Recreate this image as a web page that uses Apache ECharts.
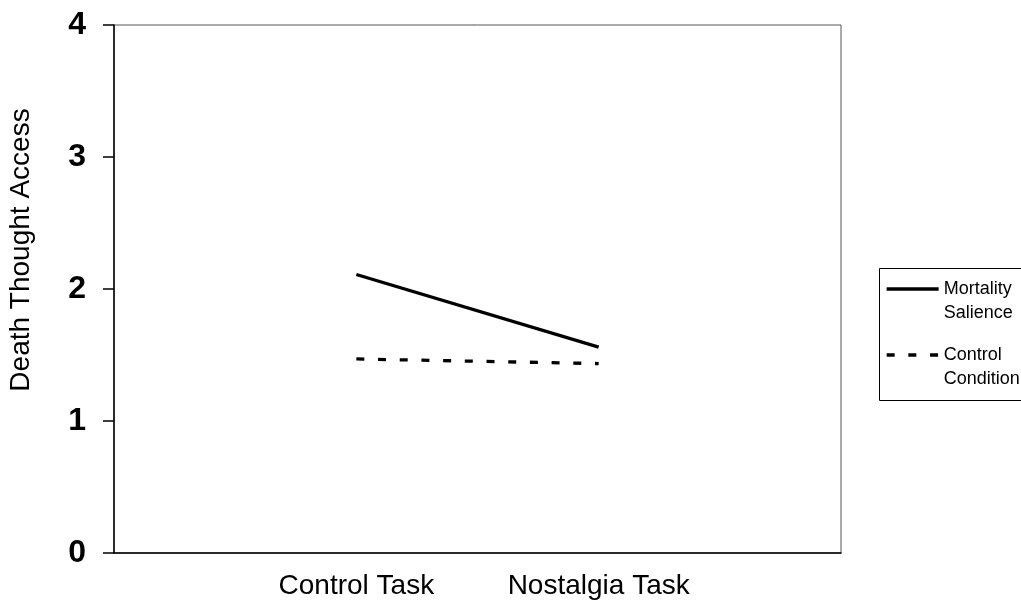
<!DOCTYPE html>
<html>
<head>
<meta charset="utf-8">
<script src="https://cdn.jsdelivr.net/npm/echarts@6/dist/echarts.min.js"></script>
<style>html,body{margin:0;padding:0;background:#fff;}#c{width:1021px;height:605px;}</style>
</head>
<body>
<div id="c"></div>
<script>
const categories = ['Control Task', 'Nostalgia Task'];
const mortalitySalience = [2.11, 1.56];
const controlCondition = [1.47, 1.435];
const yTicks = [0, 1, 2, 3, 4];

const chart = echarts.init(document.getElementById('c'));
const font = '"Liberation Sans", Arial, sans-serif';
chart.setOption({
  animation: false,
  backgroundColor: '#fff',
  grid: { left: 114, top: 25, right: 180, bottom: 52, show: true, borderColor: '#555', borderWidth: 1,
          containLabel: false, outerBoundsMode: 'none' },
  xAxis: {
    type: 'value', min: 0, max: 3, interval: 1,
    axisLine: { show: true, lineStyle: { color: '#000', width: 1.5 } },
    axisTick: { show: false },
    splitLine: { show: false },
    axisLabel: {
      margin: 19, color: '#000', fontSize: 28, fontFamily: font,
      formatter: v => categories[v - 1] || ''
    }
  },
  yAxis: {
    type: 'value', min: yTicks[0], max: yTicks[yTicks.length - 1], interval: 1,
    name: 'Death Thought Access', nameLocation: 'middle', nameGap: 79,
    nameTextStyle: { color: '#000', fontSize: 28, fontFamily: font, padding: [0, 0, 0, 78] },
    axisLine: { show: true, lineStyle: { color: '#000', width: 1.5 } },
    axisTick: { show: true, inside: false, length: 11, lineStyle: { color: '#000', width: 1.5 } },
    splitLine: { show: false },
    axisLabel: { margin: 28, color: '#000', fontSize: 32, fontWeight: 'bold', fontFamily: font }
  },
  legend: {
    orient: 'vertical', left: 885, top: 253, padding: 0, itemGap: -6,
    itemWidth: 52, itemHeight: 14,
    data: [
      { name: 'Mortality Salience' },
      { name: 'Control Condition', lineStyle: { type: [8, 13.7], dashOffset: 0 } }
    ],
    formatter: n => ' \n' + n.replace(' ', '\n'),
    itemStyle: { color: 'rgba(0,0,0,0)', borderWidth: 0, opacity: 0 },
    lineStyle: { width: 3.3 },
    textStyle: { color: '#000', fontSize: 18, lineHeight: 24, fontFamily: font }
  },
  graphic: [{
    type: 'rect', left: 877, top: 266, z: 0,
    shape: { width: 200, height: 132 },
    style: { fill: 'none', stroke: '#000', lineWidth: 1 }
  }],
  series: [
    {
      name: 'Mortality Salience', type: 'line', symbol: 'none',
      data: categories.map((c, i) => [i + 1, mortalitySalience[i]]),
      lineStyle: { color: '#000', width: 3.3, type: 'solid' },
      itemStyle: { color: '#000' }
    },
    {
      name: 'Control Condition', type: 'line', symbol: 'none',
      data: categories.map((c, i) => [i + 1, controlCondition[i]]),
      lineStyle: { color: '#000', width: 3.3, type: [8, 13.7] },
      itemStyle: { color: '#000' }
    }
  ]
});
</script>
</body>
</html>
